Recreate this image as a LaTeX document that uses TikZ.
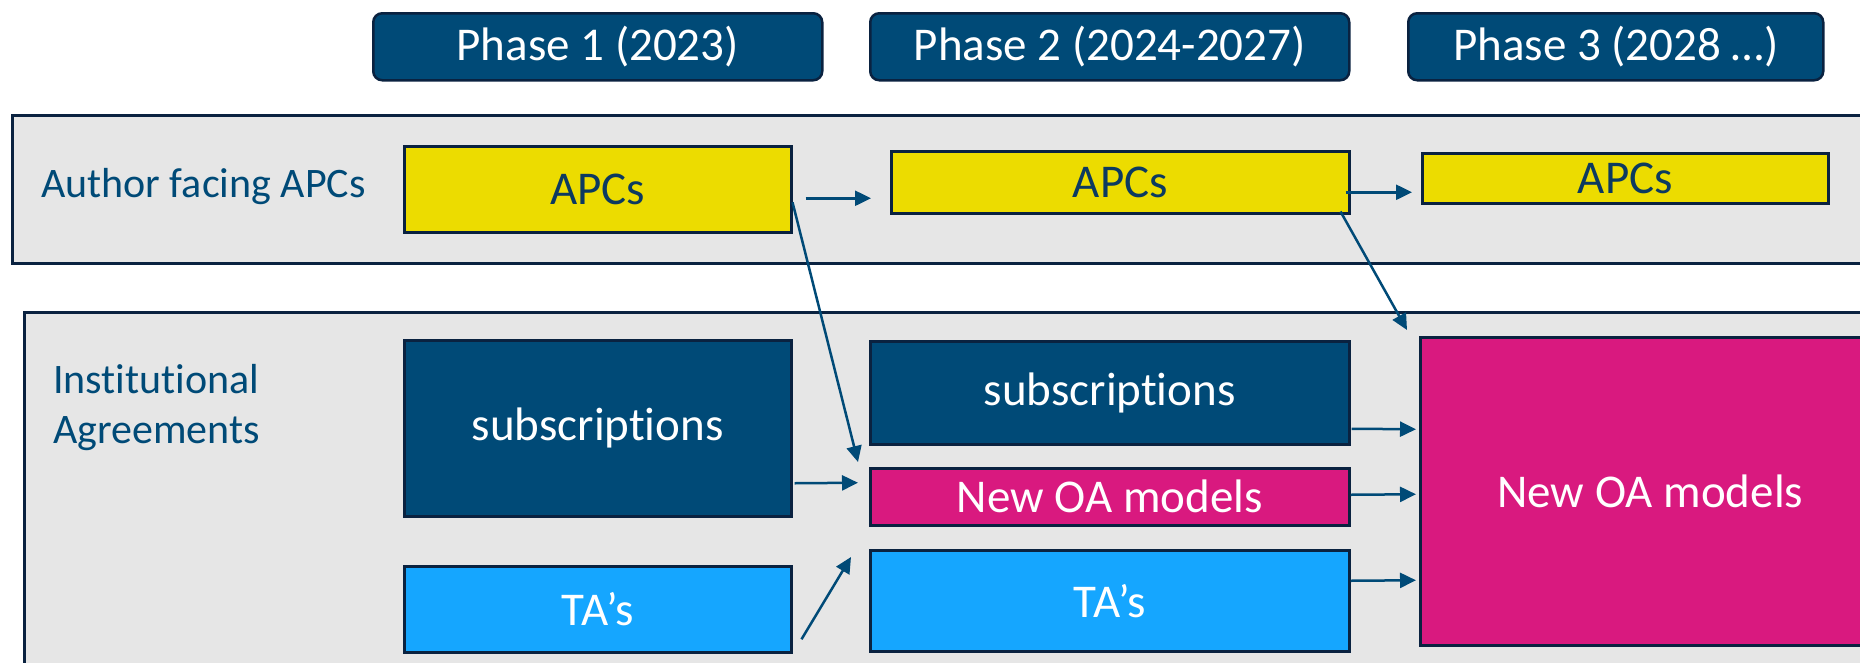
\documentclass[tikz,border=0pt]{standalone}
\usepackage{fontspec}
\setmainfont[RawFeature={-liga;-clig;-calt;-dlig}]{Carlito}
\usetikzlibrary{arrows.meta,calc}
\definecolor{navy}{RGB}{0,74,119}
\definecolor{edge}{RGB}{10,34,64}
\definecolor{apcyellow}{RGB}{236,220,0}
\definecolor{oapink}{RGB}{217,25,127}
\definecolor{tablue}{RGB}{21,166,255}
\definecolor{band}{RGB}{230,230,230}
\definecolor{apctext}{RGB}{12,58,96}
\tikzset{
  boxbase/.style={anchor=north west, inner sep=0pt, draw=edge, line width=2.5pt,
    font=\fontsize{47}{56}\selectfont},
  phasebox/.style={boxbase, fill=navy, text=white, rounded corners=9pt},
  apcbox/.style={boxbase, fill=apcyellow, text=apctext},
  subbox/.style={boxbase, fill=navy, text=white},
  oabox/.style={boxbase, fill=oapink, text=white},
  tabox/.style={boxbase, fill=tablue, text=white},
  bandbox/.style={anchor=north west, inner sep=0pt, draw=edge, line width=2.5pt, fill=band},
  rowlabel/.style={anchor=base west, inner sep=0pt, text=navy, font=\fontsize{42}{50}\selectfont, align=left},
  flow/.style={draw=navy, line width=2.5pt, -{Triangle[length=16pt,width=15pt]}}
}
\begin{document}
\begin{tikzpicture}[x=1pt,y=-1pt]
\useasboundingbox (0,0) rectangle (1860,662);
% bands
\node[bandbox, minimum width=1870pt, minimum height=148pt] (topband) at (11,114) {};
\node[bandbox, minimum width=1860pt, minimum height=370pt] (botband) at (23,311) {};
% phase headers
\node[phasebox, minimum width=449pt, minimum height=67pt] (ph1) at (372,12) {Phase 1 (2023)};
\node[phasebox, minimum width=479pt, minimum height=67pt] (ph2) at (869,12) {Phase 2 (2024-2027)};
\node[phasebox, minimum width=415pt, minimum height=67pt] (ph3) at (1407,12) {Phase 3 (2028 \dots)};
% row labels
\node[rowlabel] (lab1) at (41,197) {Author facing APCs};
\node[rowlabel] (lab2) at (53,393) {Institutional};
\node[rowlabel] (lab3) at (53,443) {Agreements};
% APCs row
\node[apcbox, minimum width=387pt, minimum height=86pt] (apc1) at (403,145) {APCs};
\node[apcbox, minimum width=458pt, minimum height=62pt] (apc2) at (890,150) {APCs};
\node[apcbox, minimum width=406pt, minimum height=50pt] (apc3) at (1421,152) {APCs};
% institutional row
\node[subbox, minimum width=387pt, minimum height=176pt] (sub1) at (403,339) {subscriptions};
\node[tabox, minimum width=387pt, minimum height=86pt] (ta1) at (403,565) {TA’s};
\node[subbox, minimum width=479pt, minimum height=103pt] (sub2) at (869,340) {subscriptions};
\node[oabox, minimum width=479pt, minimum height=57pt] (oa2) at (869,467) {New OA models};
\node[tabox, minimum width=479pt, minimum height=101pt] (ta2) at (869,549) {TA’s};
\node[oabox, minimum width=460pt, minimum height=308pt] (oa3) at (1419,336) {New OA models};
% connectors
\draw[flow] ($(apc1.east)+(13,9)$) -- ($(apc2.west)+(-19,16)$);
\draw[flow] ($(apc2.east)+(-5,10)$) -- ($(apc3.west)+(-9,14)$);
\draw[flow] ($(apc1.east)+(0,13)$) -- ($(oa2.north west)+(-11,-5)$);
\draw[flow] ($(apc2.south east)+(-10,-3)$) -- ($(oa3.north west)+(-12,-6)$);
\draw[flow] ($(sub1.east)+(2,55)$) -- ($(oa2.west)+(-11,-14)$);
\draw[flow] ($(ta1.east)+(9,30)$) -- ($(ta2.north west)+(-18,8)$);
\draw[flow] ($(sub2.east)+(1,36)$) -- ($(oa3.west)+(-3,-62)$);
\draw[flow] ($(oa2.east)+(0,-2)$) -- ($(oa3.west)+(-3,3)$);
\draw[flow] ($(ta2.east)+(0,-20)$) -- ($(oa3.west)+(-3,89)$);
\end{tikzpicture}
\end{document}
